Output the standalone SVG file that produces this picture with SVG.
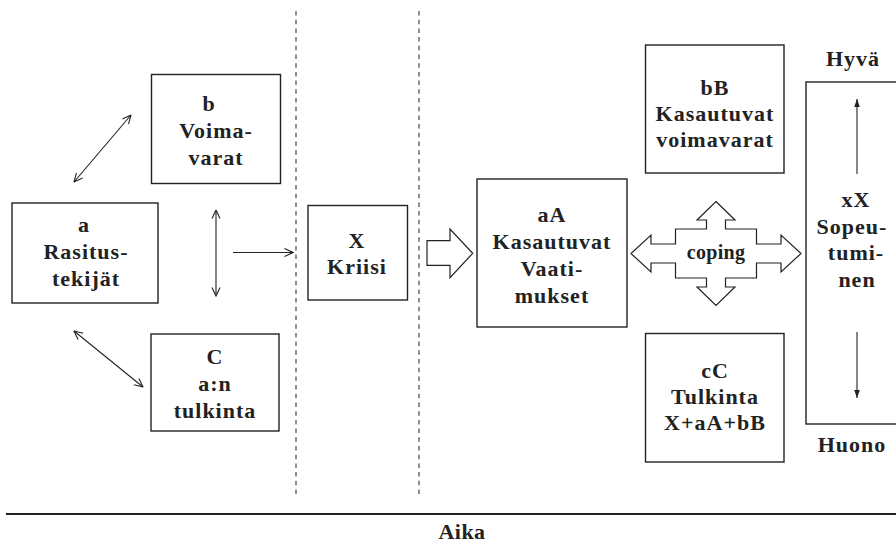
<svg xmlns="http://www.w3.org/2000/svg" width="896" height="543" viewBox="0 0 896 543">
  <defs>
    <style>
      .box { fill: #fff; stroke: #222; stroke-width: 1.4; }
      .lbl { font-family: "Liberation Serif", "Times New Roman", serif; font-weight: bold; font-size: 22px; letter-spacing: 1px; fill: #222; text-anchor: middle; }
      .small { font-size: 20px; letter-spacing: 0.3px; }
      .conn { stroke: #222; stroke-width: 1.1; fill: none; }
      .dash { stroke: #444; stroke-width: 1.2; stroke-dasharray: 4.5 4.2; fill: none; }
      .hollow { fill: #fff; stroke: #222; stroke-width: 1.2; stroke-linejoin: miter; }
    </style>
    <marker id="open" viewBox="0 0 10 10" refX="9.5" refY="5" markerWidth="10" markerHeight="10" markerUnits="userSpaceOnUse" orient="auto-start-reverse">
      <path d="M1,1 L9.5,5 L1,9" fill="none" stroke="#222" stroke-width="1.1"/>
    </marker>
    <marker id="solid" viewBox="0 0 10 10" refX="10" refY="5" markerWidth="8" markerHeight="8" markerUnits="userSpaceOnUse" orient="auto">
      <path d="M0,1.5 L10,5 L0,8.5 Z" fill="#222"/>
    </marker>
  </defs>

  <rect width="896" height="543" fill="#fff"/>

  <!-- phase separators and time axis -->
  <g id="axes">
    <line class="dash" x1="296" y1="11" x2="296" y2="497"/>
    <line class="dash" x1="419" y1="11" x2="419" y2="497"/>
    <line x1="6" y1="514" x2="896" y2="514" stroke="#222" stroke-width="2"/>
    <text class="lbl" x="462" y="539" style="letter-spacing:0.5px">Aika</text>
  </g>

  <!-- connectors -->
  <g id="connectors">
    <line class="conn" x1="74" y1="182" x2="131" y2="115" marker-start="url(#open)" marker-end="url(#open)"/>
    <line class="conn" x1="74" y1="331" x2="143" y2="387" marker-start="url(#open)" marker-end="url(#open)"/>
    <line class="conn" x1="216" y1="210" x2="216" y2="296" marker-start="url(#open)" marker-end="url(#open)"/>
    <line class="conn" x1="233" y1="252.5" x2="293" y2="252.5" marker-end="url(#open)"/>
    <path class="hollow" d="M427,240.7 L450,240.7 L450,229 L472.7,253.3 L450,277.7 L450,265.3 L427,265.3 Z"/>
  </g>

  <g id="node-a">
    <rect class="box" x="12" y="203" width="146" height="100"/>
    <text class="lbl" x="84" y="232">a</text>
    <text class="lbl" x="86" y="259">Rasitus-</text>
    <text class="lbl" x="86" y="286">tekijät</text>
  </g>

  <g id="node-b">
    <rect class="box" x="151.5" y="74.5" width="129" height="109"/>
    <text class="lbl" x="209" y="111">b</text>
    <text class="lbl" x="216" y="138">Voima-</text>
    <text class="lbl" x="216" y="165">varat</text>
  </g>

  <g id="node-c">
    <rect class="box" x="151" y="334" width="128" height="97"/>
    <text class="lbl" x="215" y="364">C</text>
    <text class="lbl" x="215" y="391">a:n</text>
    <text class="lbl" x="215" y="418">tulkinta</text>
  </g>

  <g id="node-x">
    <rect class="box" x="308" y="205.5" width="99.5" height="94.5"/>
    <text class="lbl" x="357" y="248">X</text>
    <text class="lbl" x="357" y="274">Kriisi</text>
  </g>

  <g id="node-aA">
    <rect class="box" x="477" y="179" width="150" height="148"/>
    <text class="lbl" x="552" y="222">aA</text>
    <text class="lbl" x="552" y="249">Kasautuvat</text>
    <text class="lbl" x="552" y="276">Vaati-</text>
    <text class="lbl" x="552" y="303">mukset</text>
  </g>

  <g id="node-coping">
    <path class="hollow" d="M716,201.5 L735,220 L725.5,220 L725.5,229 L756.5,229 L756.5,244 L781,244 L781,235 L801,253.5 L781,272 L781,263 L756.5,263 L756.5,278 L725.5,278 L725.5,287 L735,287 L716,305.5 L697,287 L706.5,287 L706.5,278 L675.5,278 L675.5,263 L651,263 L651,272 L631,253.5 L651,235 L651,244 L675.5,244 L675.5,229 L706.5,229 L706.5,220 L697,220 Z"/>
    <text class="lbl small" x="716" y="259">coping</text>
  </g>

  <g id="node-bB">
    <rect class="box" x="645.5" y="45" width="138.5" height="128"/>
    <text class="lbl" x="715" y="95">bB</text>
    <text class="lbl" x="715" y="121">Kasautuvat</text>
    <text class="lbl" x="715" y="147">voimavarat</text>
  </g>

  <g id="node-cC">
    <rect class="box" x="645.5" y="333.5" width="138.5" height="128.5"/>
    <text class="lbl" x="715" y="378">cC</text>
    <text class="lbl" x="715" y="404">Tulkinta</text>
    <text class="lbl" x="715" y="430">X+aA+bB</text>
  </g>

  <g id="node-xX">
    <text class="lbl" x="853" y="66">Hyvä</text>
    <rect class="box" x="806" y="82" width="100" height="342"/>
    <line class="conn" x1="857" y1="174" x2="857" y2="99" marker-end="url(#solid)"/>
    <text class="lbl" x="856" y="207">xX</text>
    <text class="lbl" x="852" y="234">Sopeu-</text>
    <text class="lbl" x="856" y="260">tumi-</text>
    <text class="lbl" x="857" y="287">nen</text>
    <line class="conn" x1="857" y1="332" x2="857" y2="398" marker-end="url(#solid)"/>
    <text class="lbl" x="852" y="452">Huono</text>
  </g>
</svg>
